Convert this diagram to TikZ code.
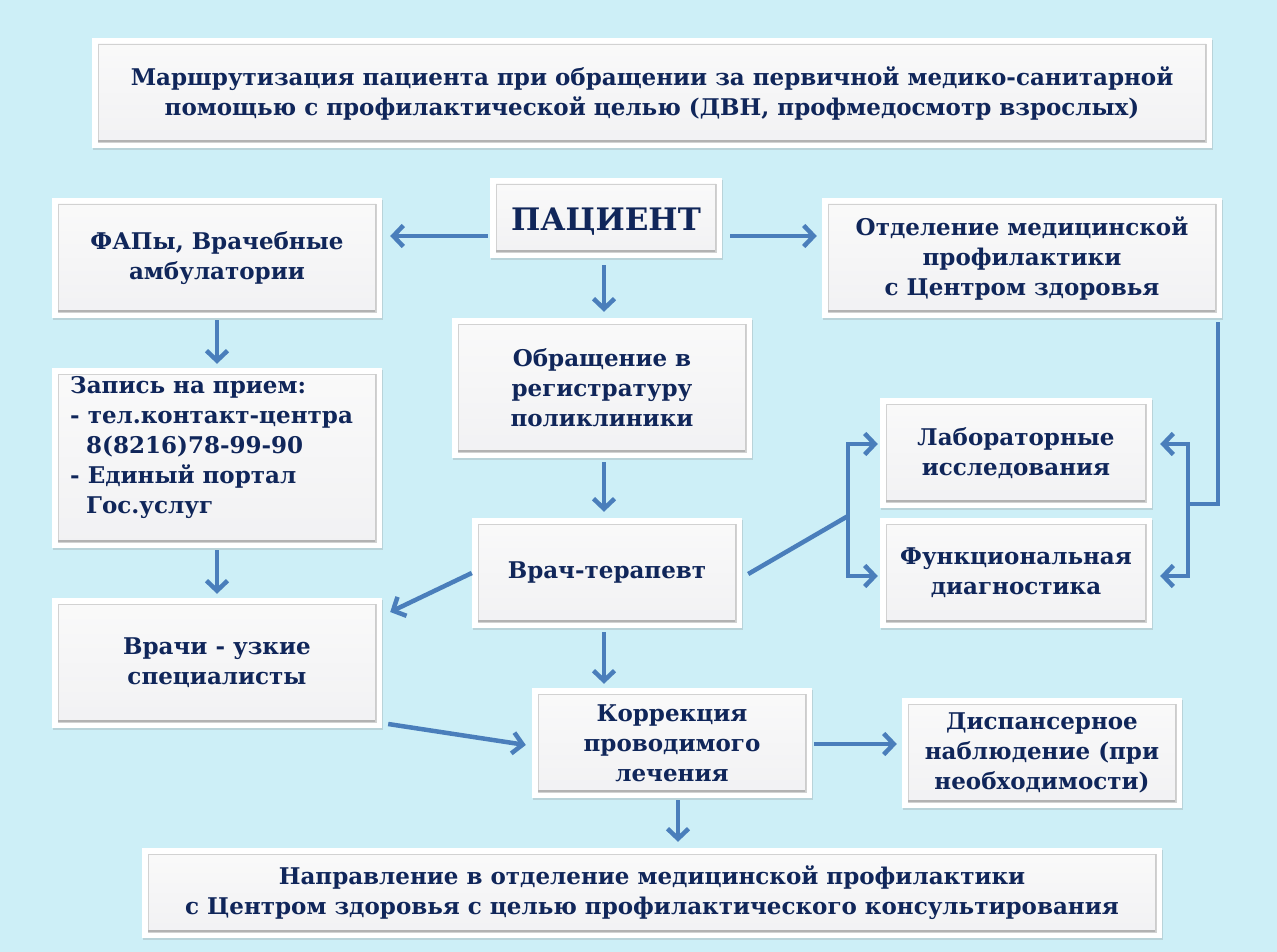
\documentclass[tikz,border=0pt]{standalone}
\usepackage{fontspec}
\setmainfont{DejaVu Serif}
\usetikzlibrary{arrows.meta,shadows}
\definecolor{bg}{HTML}{CDEFF7}
\definecolor{arr}{HTML}{4A7EBB}
\definecolor{txt}{HTML}{10265A}
\definecolor{panel}{HTML}{F1F1F3}
\tikzset{
  card/.style={rectangle, fill=white, inner sep=0pt, text=txt,
    font=\bfseries\fontsize{23}{30}\selectfont, align=center,
    drop shadow={opacity=0.25,shadow xshift=1pt,shadow yshift=-2pt},
    path picture={
      \shade[top color=white!96!gray, bottom color=panel]
        ([xshift=6pt,yshift=-6pt]path picture bounding box.north west) rectangle
        ([xshift=-6pt,yshift=6pt]path picture bounding box.south east);
      \draw[gray!35, line width=0.6pt]
        ([xshift=6pt,yshift=-6pt]path picture bounding box.north west) rectangle
        ([xshift=-6pt,yshift=6pt]path picture bounding box.south east);
      \draw[gray!60, line width=2.2pt]
        ([xshift=6pt,yshift=7pt]path picture bounding box.south west) --
        ([xshift=-6pt,yshift=7pt]path picture bounding box.south east);
      \draw[gray!40, line width=1.2pt]
        ([xshift=-6.5pt,yshift=-6pt]path picture bounding box.north east) --
        ([xshift=-6.5pt,yshift=6pt]path picture bounding box.south east);
    }},
  link/.style={draw=arr, line width=4.5pt, line join=miter},
  arrowline/.style={link, -{Straight Barb[length=10pt,width=21pt]}},
  lbl/.style={text=txt, font=\bfseries\fontsize{23}{30}\selectfont, align=left, inner sep=0pt}
}
\begin{document}
\begin{tikzpicture}[x=1pt,y=-1pt]
\fill[bg] (0,0) rectangle (1277,952);
\useasboundingbox (0,0) rectangle (1277,952);

\node[card, minimum width=1120, minimum height=110] (title) at (652,93)
  {Маршрутизация пациента при обращении за первичной медико-санитарной\\помощью с профилактической целью (ДВН, профмедосмотр взрослых)};
\node[card, minimum width=232, minimum height=80, text height=30pt, text depth=6pt, font=\bfseries\fontsize{31}{36}\selectfont] (pat) at (606,218) {ПАЦИЕНТ};
\node[card, minimum width=330, minimum height=120] (fap) at (217,258) {ФАПы, Врачебные\\амбулатории};
\node[card, minimum width=400, minimum height=120] (otd) at (1022,258) {Отделение медицинской\\профилактики\\с Центром здоровья};
\node[card, minimum width=300, minimum height=140] (obr) at (602,388) {Обращение в\\регистратуру\\поликлиники};
\node[card, minimum width=330, minimum height=180] (zap) at (217,458) {};
\node[lbl, anchor=north west] (zapt) at (70,376) {Запись на прием:\\- тел.контакт-центра\\\ \ 8(8216)78-99-90\\- Единый портал\\\ \ Гос.услуг};
\node[card, minimum width=272, minimum height=110] (lab) at (1016,453) {Лабораторные\\исследования};
\node[card, minimum width=272, minimum height=110] (fun) at (1016,573) {Функциональная\\диагностика};
\node[card, minimum width=270, minimum height=110] (ter) at (607,573) {Врач-терапевт};
\node[card, minimum width=330, minimum height=130] (uzk) at (217,663) {Врачи - узкие\\специалисты};
\node[card, minimum width=280, minimum height=110] (kor) at (672,743) {Коррекция\\проводимого\\лечения};
\node[card, minimum width=280, minimum height=110] (disp) at (1042,753) {Диспансерное\\наблюдение (при\\необходимости)};
\node[card, minimum width=1020, minimum height=90] (napr) at (652,893)
  {Направление в отделение медицинской профилактики\\с Центром здоровья с целью профилактического консультирования};

% arrows from patient
\draw[arrowline] ([xshift=-2pt,yshift=-18pt]pat.west) -- ([xshift=8pt,yshift=22pt]fap.east);
\draw[arrowline] ([xshift=8pt,yshift=-18pt]pat.east) -- ([xshift=-5pt,yshift=22pt]otd.west);
\draw[arrowline] ([xshift=-2pt,yshift=-7pt]pat.south) -- ([xshift=-2pt,yshift=6pt]pat.south |- obr.north);
% left column
\draw[arrowline] ([yshift=-2pt]fap.south) -- ([yshift=4pt]zap.north);
\draw[arrowline] ([yshift=-2pt]zap.south) -- ([yshift=4pt]uzk.north);
% centre column
\draw[arrowline] ([xshift=2pt,yshift=-4pt]obr.south) -- ([xshift=2pt,yshift=6pt]obr.south |- ter.north);
\draw[arrowline] ([yshift=0pt]ter.west) -- ([xshift=8pt,yshift=51pt]uzk.east);
\draw[arrowline] ([xshift=-3pt,yshift=-4pt]ter.south) -- ([xshift=-3pt,yshift=4pt]ter.south |- kor.north);
\draw[arrowline] ([xshift=6pt,yshift=-61pt]uzk.east) -- ([xshift=-6pt,yshift=-2pt]kor.west);
\draw[arrowline] ([xshift=2pt,yshift=-1pt]kor.east) -- ([xshift=-5pt,yshift=9pt]disp.west);
\draw[arrowline] ([xshift=6pt,yshift=-2pt]kor.south) -- ([xshift=6pt,yshift=6pt]kor.south |- napr.north);
% therapist to diagnostics
\coordinate (split) at (848,516);
\draw[link] ([xshift=6pt,yshift=-1pt]ter.east) -- (split);
\draw[arrowline] (split) |- ([xshift=-2pt,yshift=9pt]lab.west);
\draw[arrowline] (split) |- ([xshift=-2pt,yshift=-3pt]fun.west);
% prevention dept to diagnostics
\coordinate (rsplit) at (1188,504);
\draw[link] ([xshift=-4pt,yshift=-4pt]otd.south east) |- (rsplit);
\draw[arrowline] (rsplit) |- ([xshift=8pt,yshift=9pt]lab.east);
\draw[arrowline] (rsplit) |- ([xshift=8pt,yshift=-3pt]fun.east);
\end{tikzpicture}
\end{document}
